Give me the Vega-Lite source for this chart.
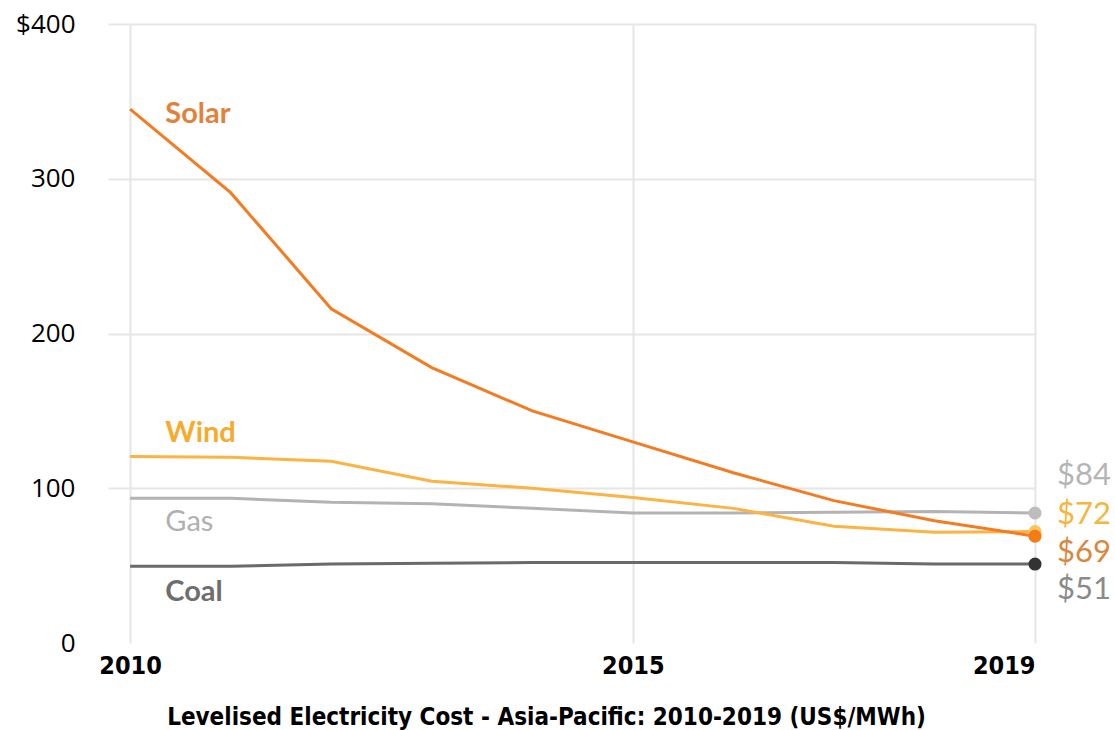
{
  "$schema": "https://vega.github.io/schema/vega-lite/v6.json",
  "width": 927,
  "height": 619,
  "autosize": {"type": "none"},
  "padding": {"left": 108, "top": 24, "right": 80, "bottom": 87},
  "background": "white",
  "config": {"view": {"stroke": null}},
  "title": {
    "text": "Levelised Electricity Cost - Asia-Pacific: 2010-2019 (US$/MWh)",
    "orient": "bottom",
    "anchor": "middle",
    "font": "DejaVu Sans Condensed, Liberation Sans",
    "fontSize": 24,
    "fontWeight": "bold",
    "color": "#000000",
    "dx": -25,
    "offset": 28
  },
  "resolve": {"scale": {"color": "independent"}},
  "datasets": {
    "lines": [
      {"year": 2010, "series": "Coal", "value": 49.6},
      {"year": 2011, "series": "Coal", "value": 49.6},
      {"year": 2012, "series": "Coal", "value": 51},
      {"year": 2013, "series": "Coal", "value": 51.5},
      {"year": 2014, "series": "Coal", "value": 52},
      {"year": 2015, "series": "Coal", "value": 52},
      {"year": 2016, "series": "Coal", "value": 52},
      {"year": 2017, "series": "Coal", "value": 52},
      {"year": 2018, "series": "Coal", "value": 51},
      {"year": 2019, "series": "Coal", "value": 51},
      {"year": 2010, "series": "Gas", "value": 93.5},
      {"year": 2011, "series": "Gas", "value": 93.5},
      {"year": 2012, "series": "Gas", "value": 91},
      {"year": 2013, "series": "Gas", "value": 90},
      {"year": 2014, "series": "Gas", "value": 87},
      {"year": 2015, "series": "Gas", "value": 84},
      {"year": 2016, "series": "Gas", "value": 84},
      {"year": 2017, "series": "Gas", "value": 84.5},
      {"year": 2018, "series": "Gas", "value": 85},
      {"year": 2019, "series": "Gas", "value": 84},
      {"year": 2010, "series": "Wind", "value": 120.5},
      {"year": 2011, "series": "Wind", "value": 120},
      {"year": 2012, "series": "Wind", "value": 117.5},
      {"year": 2013, "series": "Wind", "value": 104.5},
      {"year": 2014, "series": "Wind", "value": 100},
      {"year": 2015, "series": "Wind", "value": 94},
      {"year": 2016, "series": "Wind", "value": 87},
      {"year": 2017, "series": "Wind", "value": 75.5},
      {"year": 2018, "series": "Wind", "value": 71.5},
      {"year": 2019, "series": "Wind", "value": 72},
      {"year": 2010, "series": "Solar", "value": 345},
      {"year": 2011, "series": "Solar", "value": 291},
      {"year": 2012, "series": "Solar", "value": 216},
      {"year": 2013, "series": "Solar", "value": 178},
      {"year": 2014, "series": "Solar", "value": 150},
      {"year": 2015, "series": "Solar", "value": 130},
      {"year": 2016, "series": "Solar", "value": 110},
      {"year": 2017, "series": "Solar", "value": 92},
      {"year": 2018, "series": "Solar", "value": 79},
      {"year": 2019, "series": "Solar", "value": 69}
    ],
    "names": [
      {"series": "Solar", "year": 2010.35, "value": 342, "label": "Solar"},
      {"series": "Wind", "year": 2010.35, "value": 136, "label": "Wind"},
      {"series": "Gas", "year": 2010.35, "value": 78, "label": "Gas"},
      {"series": "Coal", "year": 2010.35, "value": 33, "label": "Coal"}
    ],
    "ends": [
      {"series": "Gas", "year": 2019.22, "value": 107.7, "label": "$84"},
      {"series": "Wind", "year": 2019.22, "value": 83, "label": "$72"},
      {"series": "Solar", "year": 2019.22, "value": 58, "label": "$69"},
      {"series": "Coal", "year": 2019.22, "value": 34, "label": "$51"}
    ]
  },
  "layer": [
    {
      "data": {"name": "lines"},
      "mark": {"type": "line", "strokeWidth": 3},
      "encoding": {
        "x": {
          "field": "year", "type": "quantitative",
          "scale": {"domain": [2009.78, 2019], "nice": false, "zero": false},
          "axis": {
            "values": [2010, 2015, 2019], "format": "d", "title": null,
            "domain": false, "ticks": false,
            "grid": true, "gridColor": "#e6e6e6", "gridWidth": 2,
            "labelFont": "DejaVu Sans Condensed, Liberation Sans", "labelFontSize": 25,
            "labelFontWeight": "bold", "labelColor": "#000000", "labelPadding": 10
          }
        },
        "y": {
          "field": "value", "type": "quantitative",
          "scale": {"domain": [0, 400], "nice": false},
          "axis": {
            "values": [0, 100, 200, 300, 400], "title": null,
            "labelExpr": "datum.value == 400 ? '$400' : datum.label",
            "domain": false, "ticks": false,
            "grid": true,
            "gridColor": {"condition": {"test": "datum.value == 0", "value": "transparent"}, "value": "#e6e6e6"},
            "gridWidth": 2,
            "labelFont": "Open Sans", "labelFontSize": 26, "labelColor": "#000000",
            "labelPadding": 33
          }
        },
        "color": {
          "field": "series", "type": "nominal",
          "scale": {"domain": ["Solar", "Wind", "Gas", "Coal"], "range": ["#f47b20", "#fbb342", "#b3b3b3", "#6a6a6a"]},
          "legend": null
        }
      }
    },
    {
      "data": {"name": "lines"},
      "transform": [{"filter": "datum.year == 2019"}],
      "mark": {"type": "point", "filled": true, "size": 170, "opacity": 1},
      "encoding": {
        "x": {"field": "year", "type": "quantitative"},
        "y": {"field": "value", "type": "quantitative"},
        "color": {
          "field": "series", "type": "nominal",
          "scale": {"domain": ["Solar", "Wind", "Gas", "Coal"], "range": ["#f57c14", "#fbc45a", "#bdbdbd", "#333333"]},
          "legend": null
        }
      }
    },
    {
      "data": {"name": "names"},
      "transform": [{"filter": "datum.series != 'Gas'"}],
      "mark": {"type": "text", "align": "left", "baseline": "middle", "font": "Lato", "fontSize": 29, "fontWeight": "bold"},
      "encoding": {
        "x": {"field": "year", "type": "quantitative"},
        "y": {"field": "value", "type": "quantitative"},
        "text": {"field": "label"},
        "color": {
          "field": "series", "type": "nominal",
          "scale": {"domain": ["Solar", "Wind", "Coal"], "range": ["#e2823a", "#f8aa2c", "#6e6e6e"]},
          "legend": null
        }
      }
    },
    {
      "data": {"name": "names"},
      "transform": [{"filter": "datum.series == 'Gas'"}],
      "mark": {"type": "text", "align": "left", "baseline": "middle", "font": "Lato", "fontSize": 29, "color": "#b0b0b0"},
      "encoding": {
        "x": {"field": "year", "type": "quantitative"},
        "y": {"field": "value", "type": "quantitative"},
        "text": {"field": "label"}
      }
    },
    {
      "data": {"name": "ends"},
      "mark": {"type": "text", "align": "left", "baseline": "middle", "font": "Lato", "fontSize": 31},
      "encoding": {
        "x": {"field": "year", "type": "quantitative"},
        "y": {"field": "value", "type": "quantitative"},
        "text": {"field": "label"},
        "color": {
          "field": "series", "type": "nominal",
          "scale": {"domain": ["Solar", "Wind", "Gas", "Coal"], "range": ["#d9883e", "#f7b53c", "#b5b5b5", "#8a8a8a"]},
          "legend": null
        }
      }
    }
  ]
}
